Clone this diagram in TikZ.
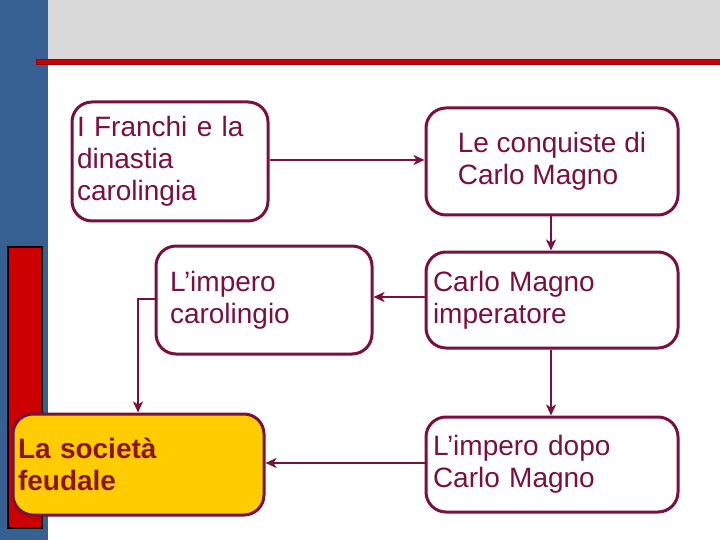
\documentclass[tikz,border=0pt]{standalone}
\usepackage{fontspec}
\setmainfont{Liberation Sans}
\usetikzlibrary{arrows.meta}
\definecolor{boxline}{RGB}{122,16,64}
\definecolor{barblue}{RGB}{54,96,146}
\definecolor{topgray}{RGB}{217,217,217}
\definecolor{barred}{RGB}{204,0,0}
\definecolor{feudyellow}{RGB}{255,204,0}
\definecolor{feudtext}{RGB}{140,20,30}
\tikzset{
  box/.style={draw=boxline, line width=3pt, rounded corners=20pt, fill=white,
    align=left, inner sep=0pt, text=boxline,
    font=\fontsize{28}{32}\selectfont},
  link/.style={draw=boxline, line width=2pt, -{Stealth[length=11pt,width=10pt,inset=3pt]}}
}
\begin{document}
\begin{tikzpicture}[x=1pt,y=-1pt]
    \useasboundingbox (0,0) rectangle (720,540);
    % Background
    \fill[barblue] (0,0) rectangle (48,540);
    \fill[topgray] (48,0) rectangle (720,62);
    \draw[fill=barred, draw=red!60!black, line width=1pt] (36,60) rectangle (720,65);
    \draw[fill=barred, draw=black, line width=2pt] (8,247) rectangle (42,528);
    % Left column
    \node[box, minimum width=196, minimum height=119, text width=186] (franchi) at (170,161.5)
        {I Franchi e la\\dinastia\\carolingia};
    \node[box, minimum width=216, minimum height=108, text width=188] (impero) at (264,300)
        {L’impero\\carolingio};
    \node[box, fill=feudyellow, text=feudtext, minimum width=251, minimum height=101,
        text width=241, font=\fontsize{28}{32}\selectfont\bfseries] (feudale) at (138.5,464.5)
        {La società\\feudale};
    % Right column
    \node[box, minimum width=252, minimum height=107] (conquiste) at (552,161.5)
        {Le conquiste di\\Carlo Magno};
    \node[box, minimum width=252, minimum height=96, text width=238] (imperatore) at (552,300)
        {Carlo Magno\\imperatore};
    \node[box, minimum width=252, minimum height=95, text width=238] (dopo) at (552,464.5)
        {L’impero dopo\\Carlo Magno};
    % Connectors
    \draw[link] (franchi.east |- 0,160) -- (conquiste.west |- 0,160);
    \draw[link] (conquiste.south -| 551,0) -- (imperatore.north -| 551,0);
    \draw[link] (imperatore.west |- 0,297) -- (impero.east |- 0,297);
    \draw[link] (impero.west |- 0,299) -| (feudale.north -| 138,0);
    \draw[link] (imperatore.south -| 551,0) -- (dopo.north -| 551,0);
    \draw[link] (dopo.west |- 0,463) -- (feudale.east |- 0,463);
\end{tikzpicture}
\end{document}
